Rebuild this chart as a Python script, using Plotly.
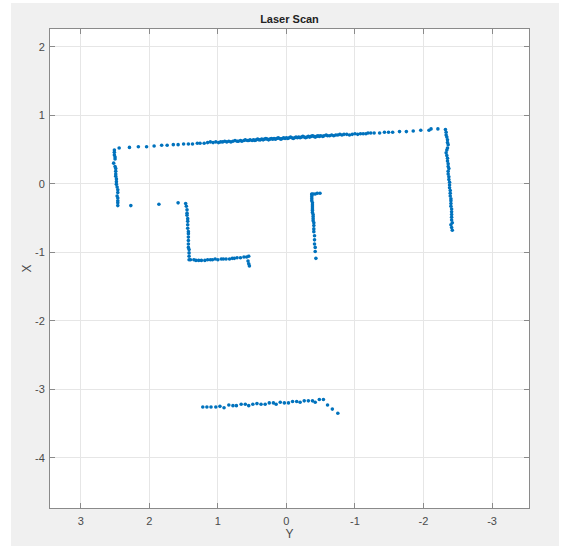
import plotly.graph_objects as go

# Laser scan points as (Y, X) pairs
top_wall = [
    (2.44, 0.52), (2.29, 0.53), (2.16, 0.54), (2.04, 0.54), (1.93, 0.55), (1.82, 0.56),
    (1.74, 0.56), (1.65, 0.57), (1.58, 0.57), (1.50, 0.58), (1.43, 0.58), (1.37, 0.58),
    (1.30, 0.59), (1.26, 0.59), (1.20, 0.59), (1.15, 0.60), (1.11, 0.61), (1.07, 0.60),
    (1.03, 0.61), (0.99, 0.60), (0.96, 0.61), (0.93, 0.61), (0.90, 0.62), (0.87, 0.61),
    (0.84, 0.62), (0.81, 0.61), (0.78, 0.62), (0.75, 0.63), (0.72, 0.62), (0.70, 0.62),
    (0.67, 0.63), (0.65, 0.62), (0.62, 0.63), (0.60, 0.64), (0.57, 0.63), (0.55, 0.63),
    (0.53, 0.64), (0.50, 0.63), (0.48, 0.64), (0.46, 0.63), (0.44, 0.64), (0.42, 0.65),
    (0.40, 0.64), (0.38, 0.64), (0.36, 0.65), (0.34, 0.64), (0.32, 0.65), (0.30, 0.66),
    (0.28, 0.65), (0.26, 0.64), (0.24, 0.65), (0.22, 0.66), (0.20, 0.65), (0.18, 0.66),
    (0.16, 0.65), (0.14, 0.66), (0.12, 0.67), (0.10, 0.66), (0.08, 0.65), (0.06, 0.66),
    (0.04, 0.67), (0.02, 0.66), (0.00, 0.67), (-0.02, 0.66), (-0.04, 0.67), (-0.06, 0.68),
    (-0.08, 0.67), (-0.10, 0.66), (-0.12, 0.67), (-0.14, 0.68), (-0.16, 0.67), (-0.18, 0.68),
    (-0.20, 0.67), (-0.22, 0.68), (-0.24, 0.69), (-0.26, 0.68), (-0.28, 0.67), (-0.30, 0.68),
    (-0.32, 0.69), (-0.34, 0.68), (-0.36, 0.69), (-0.38, 0.70), (-0.40, 0.69), (-0.42, 0.68),
    (-0.44, 0.69), (-0.46, 0.70), (-0.48, 0.69), (-0.50, 0.70), (-0.53, 0.69), (-0.55, 0.70),
    (-0.58, 0.71), (-0.60, 0.70), (-0.63, 0.70), (-0.66, 0.71), (-0.69, 0.70), (-0.72, 0.71),
    (-0.75, 0.71), (-0.78, 0.72), (-0.81, 0.71), (-0.84, 0.72), (-0.88, 0.72), (-0.92, 0.71),
    (-0.96, 0.72), (-1.00, 0.73), (-1.04, 0.72), (-1.08, 0.73), (-1.12, 0.73), (-1.16, 0.73),
    (-1.19, 0.74), (-1.23, 0.74), (-1.28, 0.74), (-1.36, 0.74), (-1.43, 0.75), (-1.49, 0.75),
    (-1.55, 0.75), (-1.65, 0.76), (-1.75, 0.76), (-1.85, 0.77), (-1.96, 0.78), (-2.08, 0.78),
    (-2.11, 0.80), (-2.21, 0.80),
]

left_wall = [
    (2.51, 0.49), (2.51, 0.46), (2.51, 0.42), (2.50, 0.39), (2.50, 0.36), (2.52, 0.30),
    (2.50, 0.25), (2.49, 0.22), (2.49, 0.18), (2.49, 0.14), (2.49, 0.11), (2.48, 0.07),
    (2.48, 0.03), (2.48, -0.01), (2.47, -0.05), (2.46, -0.09), (2.46, -0.13), (2.47, -0.18),
    (2.46, -0.21), (2.46, -0.25), (2.46, -0.28), (2.46, -0.32),
]

stray_points = [(2.27, -0.32), (1.86, -0.30), (1.58, -0.28)]

l_vertical = [
    (1.47, -0.29), (1.46, -0.33), (1.45, -0.38), (1.45, -0.43), (1.45, -0.46), (1.44, -0.51),
    (1.44, -0.55), (1.44, -0.60), (1.44, -0.65), (1.43, -0.70), (1.43, -0.73), (1.43, -0.78),
    (1.43, -0.83), (1.43, -0.88), (1.43, -0.93), (1.42, -0.96), (1.42, -1.01), (1.42, -1.06),
    (1.42, -1.11),
]

l_horizontal = [
    (1.40, -1.11), (1.35, -1.11), (1.32, -1.12), (1.28, -1.12), (1.24, -1.12), (1.19, -1.12),
    (1.15, -1.11), (1.11, -1.11), (1.08, -1.11), (1.04, -1.10), (1.00, -1.11), (0.95, -1.10),
    (0.92, -1.10), (0.88, -1.10), (0.83, -1.10), (0.79, -1.09), (0.76, -1.09), (0.72, -1.08),
    (0.67, -1.08), (0.62, -1.07), (0.58, -1.07), (0.55, -1.06),
]

l_tail = [(0.56, -1.13), (0.55, -1.17), (0.54, -1.20)]

middle_top = [(-0.37, -0.15), (-0.39, -0.15), (-0.42, -0.15), (-0.45, -0.14), (-0.49, -0.14)]

middle_vertical = [
    (-0.37, -0.16), (-0.37, -0.19), (-0.37, -0.22), (-0.37, -0.25), (-0.38, -0.28), (-0.38, -0.31),
    (-0.38, -0.34), (-0.38, -0.37), (-0.38, -0.39), (-0.38, -0.42), (-0.39, -0.45), (-0.39, -0.48),
    (-0.39, -0.51), (-0.39, -0.54), (-0.40, -0.57), (-0.40, -0.61), (-0.40, -0.66), (-0.40, -0.70),
    (-0.41, -0.76), (-0.41, -0.82), (-0.41, -0.88), (-0.42, -0.93), (-0.42, -0.99), (-0.43, -1.09),
]

right_wall = [
    (-2.32, 0.79), (-2.33, 0.75), (-2.33, 0.71), (-2.34, 0.68), (-2.35, 0.64), (-2.35, 0.60),
    (-2.36, 0.57), (-2.35, 0.52), (-2.34, 0.49), (-2.33, 0.45), (-2.34, 0.41), (-2.35, 0.37),
    (-2.35, 0.33), (-2.36, 0.29), (-2.36, 0.25), (-2.37, 0.22), (-2.36, 0.18), (-2.36, 0.14),
    (-2.37, 0.10), (-2.37, 0.06), (-2.38, 0.02), (-2.38, -0.02), (-2.38, -0.06), (-2.39, -0.10),
    (-2.39, -0.14), (-2.39, -0.18), (-2.40, -0.22), (-2.40, -0.25), (-2.40, -0.29), (-2.40, -0.33),
    (-2.41, -0.37), (-2.41, -0.41), (-2.41, -0.45), (-2.41, -0.49), (-2.41, -0.53), (-2.42, -0.57),
    (-2.40, -0.60), (-2.41, -0.64), (-2.42, -0.68),
]

bottom_row = [
    (1.22, -3.26), (1.16, -3.26), (1.10, -3.26), (1.03, -3.26), (0.97, -3.25), (0.91, -3.27),
    (0.84, -3.23), (0.78, -3.24), (0.73, -3.24), (0.66, -3.22), (0.60, -3.22), (0.55, -3.24),
    (0.49, -3.22), (0.43, -3.21), (0.37, -3.22), (0.31, -3.22), (0.25, -3.20), (0.19, -3.20),
    (0.15, -3.22), (0.09, -3.19), (0.03, -3.20), (-0.03, -3.20), (-0.09, -3.18), (-0.15, -3.18),
    (-0.20, -3.19), (-0.26, -3.17), (-0.32, -3.17), (-0.38, -3.17), (-0.42, -3.19), (-0.48, -3.15),
    (-0.54, -3.15), (-0.60, -3.23), (-0.67, -3.29), (-0.75, -3.35),
]

segments = [top_wall, left_wall, stray_points, l_vertical, l_horizontal, l_tail,
            middle_top, middle_vertical, right_wall, bottom_row]

y_vals = [p[0] for seg in segments for p in seg]
x_vals = [p[1] for seg in segments for p in seg]

y_ticks = [3, 2, 1, 0, -1, -2, -3]
x_ticks = [2, 1, 0, -1, -2, -3, -4]

FONT = "Liberation Sans, Arial, Helvetica, sans-serif"
AXIS_COLOR = "#8a8a8a"
GRID_COLOR = "#e6e6e6"
TEXT_COLOR = "#4a4a4a"

fig = go.Figure()
fig.add_trace(go.Scatter(
    x=y_vals, y=x_vals, mode="markers",
    marker=dict(size=3.6, color="#0072BD", line=dict(width=0)),
    showlegend=False, hoverinfo="skip",
))

W, H = 567, 547
L, R, T, B = 50, 38, 29, 39
pw, ph = W - L - R, H - T - B

def px2paper_x(px):
    return (px - L) / pw

def py2paper_y(py):
    return (H - B - py) / ph

fig.update_layout(
    width=W, height=H,
    margin=dict(l=L, r=R, t=T, b=B, pad=0, autoexpand=False),
    paper_bgcolor="white",
    plot_bgcolor="rgba(0,0,0,0)",
    font=dict(family=FONT, size=11, color=TEXT_COLOR),
    title=dict(text="<b>Laser Scan</b>", x=0.5, xref="paper", xanchor="center",
               y=1 - 19 / H, yref="container", yanchor="middle",
               font=dict(family=FONT, size=11, color="#222222")),
    shapes=[
        dict(type="rect", xref="paper", yref="paper",
             x0=px2paper_x(11), x1=px2paper_x(559), y0=py2paper_y(546), y1=py2paper_y(3),
             fillcolor="#f0f0f0", line=dict(width=0), layer="below"),
        dict(type="rect", xref="paper", yref="paper", x0=0, x1=1, y0=0, y1=1,
             fillcolor="white", line=dict(width=0), layer="below"),
    ],
    xaxis=dict(
        range=[3.449, -3.539], tickvals=y_ticks, ticktext=[str(v) for v in y_ticks],
        ticks="inside", ticklen=5, tickcolor=AXIS_COLOR, tickwidth=1,
        showline=True, linecolor=AXIS_COLOR, linewidth=1, mirror="ticks",
        showgrid=True, gridcolor=GRID_COLOR, gridwidth=1, zeroline=False,
        tickfont=dict(family=FONT, size=11, color=TEXT_COLOR),
        ticklabelstandoff=3, automargin=False,
        title=dict(text="Y", standoff=1, font=dict(family=FONT, size=12, color=TEXT_COLOR)),
    ),
    yaxis=dict(
        range=[-4.734, 2.258], tickvals=x_ticks, ticktext=[str(v) for v in x_ticks],
        ticks="inside", ticklen=5, tickcolor=AXIS_COLOR, tickwidth=1,
        showline=True, linecolor=AXIS_COLOR, linewidth=1, mirror="ticks",
        showgrid=True, gridcolor=GRID_COLOR, gridwidth=1, zeroline=False,
        tickfont=dict(family=FONT, size=11, color=TEXT_COLOR),
        ticklabelstandoff=2, automargin=False,
        title=dict(text="X", standoff=0, font=dict(family=FONT, size=12, color=TEXT_COLOR)),
    ),
)

fig.write_html("out.html")
